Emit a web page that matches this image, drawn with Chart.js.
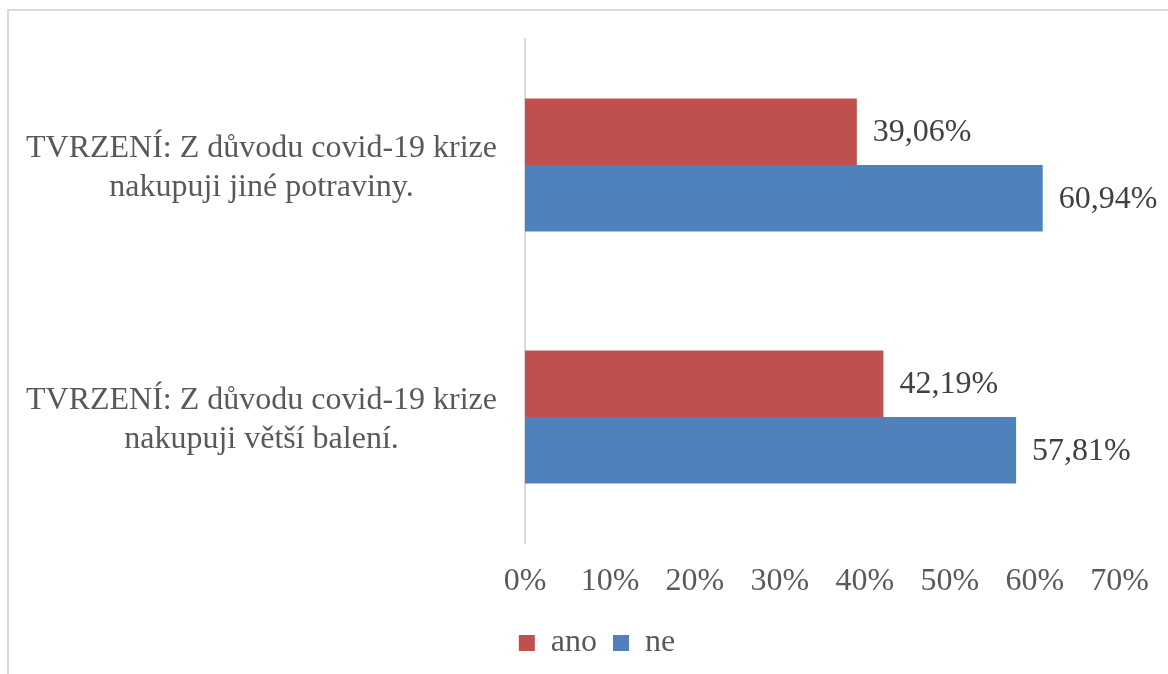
<!DOCTYPE html>
<html>
<head>
<meta charset="utf-8">
<script src="https://cdn.jsdelivr.net/npm/chart.js@4"></script>
<style>
  html, body { margin: 0; padding: 0; background: #fff; }
  #wrap { position: relative; width: 1168px; height: 674px; overflow: hidden; }
  #frame { position: absolute; left: 7px; top: 9px; right: -10px; bottom: -10px;
           border-left: 2px solid #d9d9d9; border-top: 2px solid #d9d9d9; }
  #chart { position: absolute; left: 0; top: 0; }
</style>
</head>
<body>
<div id="wrap">
  <div id="frame"></div>
  <canvas id="chart" width="1168" height="674"></canvas>
</div>
<script>
// kategorie (tvrzení) a hodnoty v procentech
const categories = [
  ['TVRZENÍ: Z důvodu covid-19 krize', 'nakupuji jiné potraviny.'],
  ['TVRZENÍ: Z důvodu covid-19 krize', 'nakupuji větší balení.']
];
const seriesNames = ['ano', 'ne'];
const anoValues = [39.06, 42.19];
const neValues = [60.94, 57.81];
const xTicks = [0, 10, 20, 30, 40, 50, 60, 70];

const FONT = '"Liberation Serif", "Times New Roman", serif';

// popisky hodnot vpravo od sloupců
const valueLabels = {
  id: 'valueLabels',
  afterDatasetsDraw(chart) {
    const ctx = chart.ctx;
    ctx.save();
    ctx.font = '32px ' + FONT;
    ctx.fillStyle = '#404040';
    ctx.textAlign = 'left';
    ctx.textBaseline = 'middle';
    chart.data.datasets.forEach((ds, i) => {
      chart.getDatasetMeta(i).data.forEach((bar, j) => {
        const txt = ds.data[j].toFixed(2).replace('.', ',') + '%';
        ctx.fillText(txt, bar.x + 16, bar.y + 1);
      });
    });
    ctx.restore();
  }
};

// legenda je v originále trochu vpravo od středu
const legendShift = {
  id: 'legendShift',
  afterLayout(chart) {
    if (chart.legend) {
      chart.legend.left += 36;
      chart.legend.right += 36;
    }
  }
};

new Chart(document.getElementById('chart'), {
  type: 'bar',
  data: {
    labels: categories,
    datasets: [
      { label: seriesNames[0], data: anoValues, backgroundColor: '#C0504D' },
      { label: seriesNames[1], data: neValues, backgroundColor: '#4F81BD' }
    ]
  },
  options: {
    indexAxis: 'y',
    responsive: false,
    animation: false,
    categoryPercentage: 0.528,
    barPercentage: 1,
    layout: { padding: { left: 0, right: 46, top: 39, bottom: 5 } },
    scales: {
      x: {
        min: 0,
        max: 70,
        afterBuildTicks(scale) { scale.ticks = xTicks.map(v => ({ value: v })); },
        afterFit(scale) { scale.height = 68; },
        grid: { display: false, drawTicks: false },
        border: { display: false },
        ticks: {
          padding: 19,
          color: '#595959',
          font: { family: FONT, size: 32 },
          callback: v => v + '%'
        }
      },
      y: {
        afterFit(scale) {
          scale.width = 525;
          scale.paddingTop = 0;
          scale.paddingBottom = 0;
        },
        grid: { display: false, drawTicks: false },
        border: { display: true, color: '#d9d9d9', width: 2 },
        ticks: {
          padding: 28,
          crossAlign: 'center',
          labelOffset: 3,
          color: '#595959',
          font: { family: FONT, size: 32, lineHeight: 1.22 }
        }
      }
    },
    plugins: {
      legend: {
        position: 'bottom',
        labels: {
          boxWidth: 16,
          boxHeight: 16,
          padding: 16,
          color: '#595959',
          font: { family: FONT, size: 32 }
        }
      },
      tooltip: { enabled: false }
    }
  },
  plugins: [valueLabels, legendShift]
});
</script>
</body>
</html>
